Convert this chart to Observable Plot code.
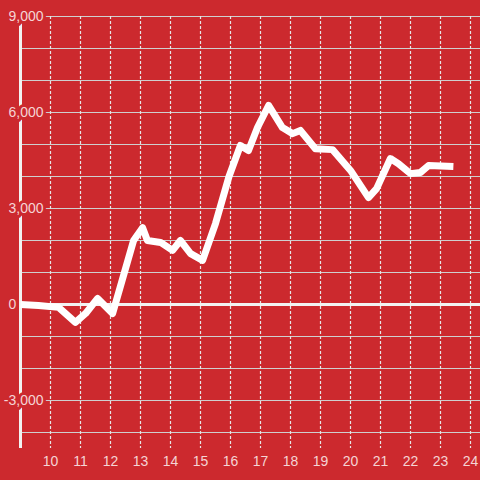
<!DOCTYPE html>
<html>
<head>
<meta charset="utf-8">
<script src="https://cdn.jsdelivr.net/npm/d3@7"></script>
<script src="https://cdn.jsdelivr.net/npm/@observablehq/plot@0.6"></script>
<style>
  html, body { margin: 0; padding: 0; background: #cc292e; }
  #chart { width: 480px; height: 480px; }
</style>
</head>
<body>
<div id="chart"></div>
<script>
const hours = [9.0, 9.6, 10.27, 10.83, 11.17, 11.57, 12.07, 12.77, 13.07, 13.23, 13.67, 14.07, 14.33, 14.67, 15.07, 15.5, 15.95, 16.33, 16.6, 16.9, 17.27, 17.73, 18.07, 18.33, 18.83, 19.4, 20.0, 20.6, 20.87, 21.33, 21.6, 22.0, 22.33, 22.6, 23.43];
const values = [0, -30, -90, -560, -280, 190, -280, 2000, 2400, 2000, 1940, 1690, 2000, 1590, 1380, 2530, 4000, 4970, 4810, 5530, 6220, 5530, 5340, 5440, 4870, 4840, 4190, 3340, 3620, 4560, 4400, 4090, 4125, 4340, 4310];

const xTicks = [10, 11, 12, 13, 14, 15, 16, 17, 18, 19, 20, 21, 22, 23, 24];
const yGrid = [-4000, -3000, -2000, -1000, 1000, 2000, 3000, 4000, 5000, 6000, 7000, 8000, 9000];
const yTicks = [-3000, 0, 3000, 6000, 9000];
const yTickLabels = ["-3,000", "0", "3,000", "6,000", "9,000"];

const bg = "#cc292e";
const labelColor = "#f5d4d5";
const data = hours.map((h, i) => ({hour: h, value: values[i]}));
const yLabelData = yTicks.map((v, i) => ({value: v, label: yTickLabels[i]}));

const chart = Plot.plot({
  width: 480,
  height: 480,
  marginLeft: 20,
  marginRight: 0,
  marginTop: 16,
  marginBottom: 32,
  style: {background: bg, fontFamily: "'Liberation Sans', Arial, sans-serif"},
  x: {domain: [9, 24.3333], axis: null},
  y: {domain: [-4500, 9000], axis: null},
  marks: [
    Plot.ruleY(yGrid, {stroke: "#cfcfcf", strokeWidth: 1.2}),
    Plot.ruleX(xTicks, {stroke: "#e6e6e6", strokeWidth: 1.2, strokeDasharray: "3,2"}),
    Plot.ruleY([0], {stroke: "#f2f2f2", strokeWidth: 3}),
    Plot.ruleX([9], {stroke: "#f2f2f2", strokeWidth: 3}),
    Plot.text(yLabelData, Plot.filter(d => d.value !== 0, {
      x: () => 9, y: "value", text: "label",
      textAnchor: "end", dx: 23, fontSize: 14,
      fill: labelColor, stroke: bg, strokeWidth: 6
    })),
    Plot.text(yLabelData, Plot.filter(d => d.value === 0, {
      x: () => 9, y: "value", text: "label",
      textAnchor: "start", dx: -12, fontSize: 14,
      fill: labelColor
    })),
    Plot.text(xTicks, {
      x: d => d, y: () => -4500, text: d => String(d),
      dy: 13, fontSize: 14, fill: labelColor
    }),
    Plot.line(data, {
      x: "hour", y: "value", stroke: "#ffffff", strokeWidth: 7,
      strokeLinejoin: "round", strokeLinecap: "butt", curve: "linear"
    })
  ]
});
document.getElementById("chart").appendChild(chart);
</script>
</body>
</html>
